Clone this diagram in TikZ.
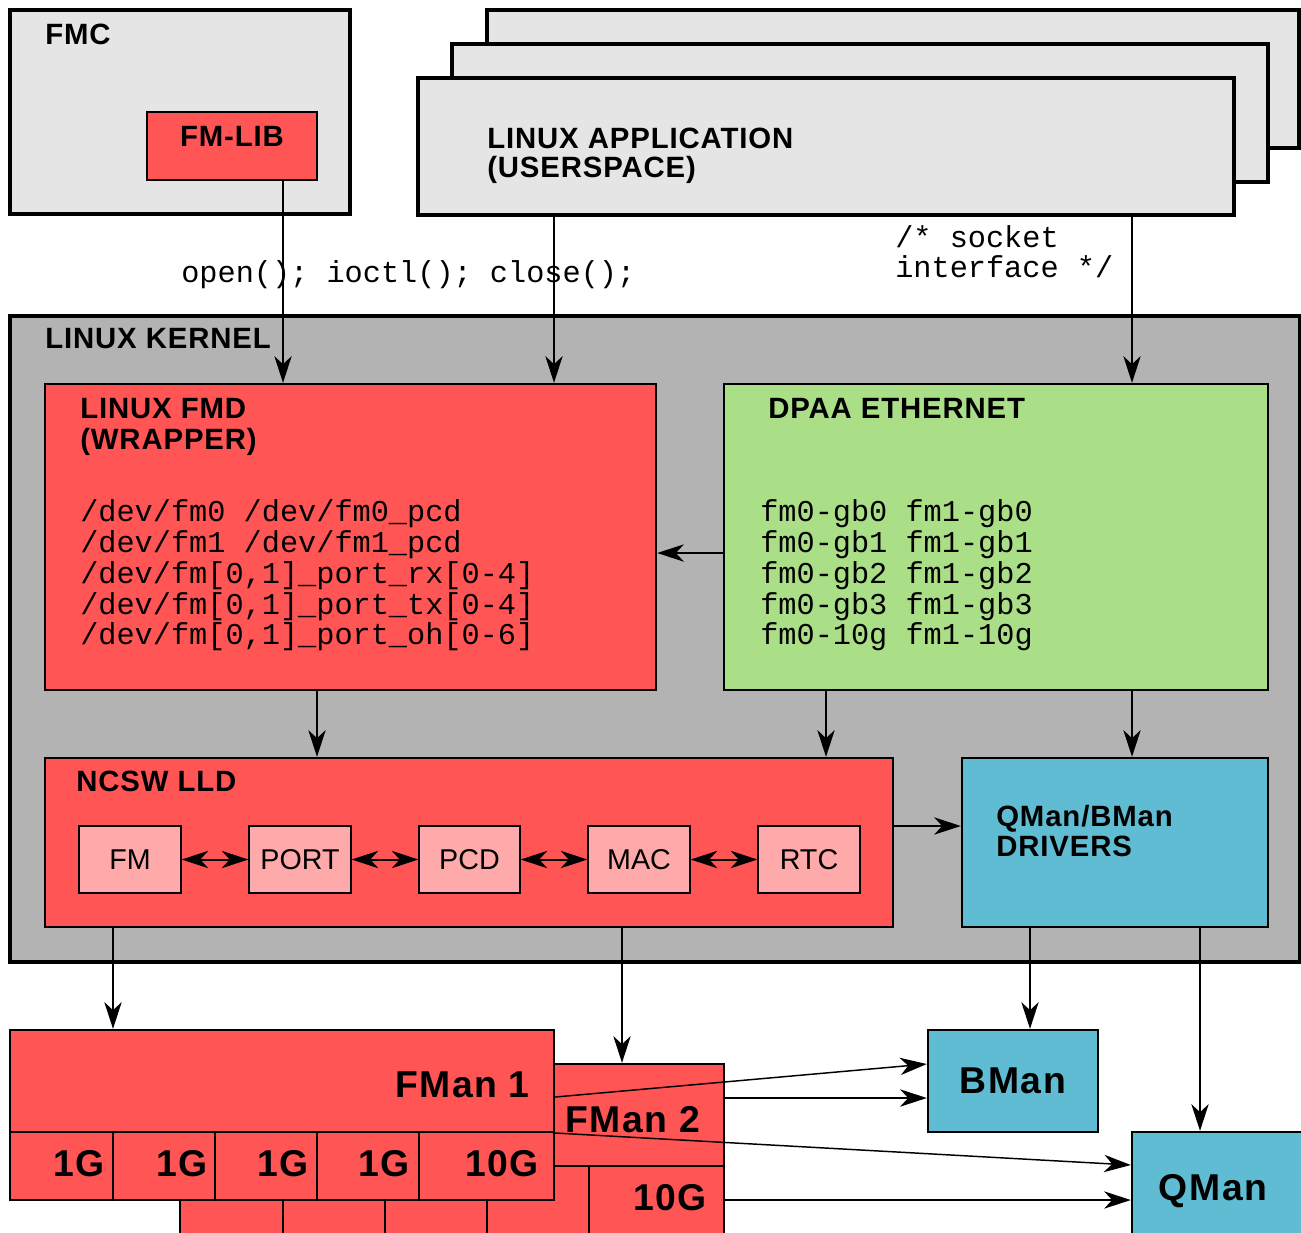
\documentclass[tikz,border=0pt]{standalone}
\usepackage{fontspec}
\setmainfont{Liberation Sans}
\setmonofont{Liberation Mono}
\newfontfamily\lblfont{Liberation Sans}[LetterSpace=3]
\newfontfamily\bigfont{Liberation Sans}[LetterSpace=4]
\usetikzlibrary{arrows.meta,fit}
\definecolor{lgray}{HTML}{E5E5E5}
\definecolor{kgray}{HTML}{B3B3B3}
\definecolor{fred}{HTML}{FF5555}
\definecolor{fpink}{HTML}{FFAAAA}
\definecolor{fgreen}{HTML}{AADE87}
\definecolor{fblue}{HTML}{5FBCD3}
\begin{document}
\begin{tikzpicture}[x=0.75pt,y=-0.75pt,
  box/.style={draw, line width=1.8pt, inner sep=0pt},
  obox/.style={draw, line width=2.4pt, inner sep=0pt},
  tbox/.style={draw, line width=0.9pt, inner sep=0pt},
  lbl/.style={font=\lblfont\bfseries\fontsize{22}{25}\selectfont, inner sep=0pt, anchor=base west},
  rlbl/.style={font=\fontsize{21.5}{25}\selectfont, inner sep=0pt},
  mono/.style={font=\ttfamily\fontsize{22.7}{23}\selectfont, inner sep=0pt, anchor=base west},
  big/.style={font=\bigfont\bfseries\fontsize{28}{30}\selectfont, inner sep=0pt},
  ctip/.tip={Stealth[length=20pt,width=13pt,inset=6pt]},
  conn/.style={line width=1.1pt, -ctip},
  dbl/.style={line width=1.5pt, ctip-ctip},
]
\useasboundingbox (0,0) rectangle (1301,1232);
\begin{scope}
\clip (0,0) rectangle (1301,1232);
% helper x / y coordinates
\coordinate (x113) at (113,0);
\coordinate (x283) at (283,0);
\coordinate (x317) at (317,0);
\coordinate (x554) at (554,0);
\coordinate (x622) at (622,0);
\coordinate (x826) at (826,0);
\coordinate (x1030) at (1030,0);
\coordinate (x1132) at (1132,0);
\coordinate (x1200) at (1200,0);
\coordinate (y553) at (0,553);
\coordinate (y826) at (0,826);
\coordinate (y1064) at (0,1064);
\coordinate (y1097) at (0,1097);
\coordinate (y1098) at (0,1098);
\coordinate (y1133) at (0,1133);
\coordinate (y1165) at (0,1165);
\coordinate (y1200) at (0,1200);

% FMC
\node[obox, fill=lgray, fit={(10,10) (350,214)}] (fmc) {};
\node[lbl] (fmct) at (45,44) {FMC};
\node[tbox, fill=fred, fit={(147,112) (317,180)}] (fmlib) {};
\node[lbl, anchor=base] (fmlibt) at (232,146) {FM-LIB};

% application stack
\node[obox, fill=lgray, fit={(487,10) (1299,148)}] (app3) {};
\node[obox, fill=lgray, fit={(452,44) (1268,182)}] (app2) {};
\node[obox, fill=lgray, fit={(418,78) (1234,215)}] (app) {};
\node[lbl] (appt1) at (487,148) {LINUX APPLICATION};
\node[lbl] (appt2) at (487,177) {(USERSPACE)};

% call labels
\node[mono] (sys) at (181,282) {open(); ioctl(); close();};
\node[mono] (sock1) at (895,247) {/* socket};
\node[mono] (sock2) at (895,277) {interface */};

% kernel
\node[obox, fill=kgray, fit={(10,316) (1300,962)}] (kern) {};
\node[lbl] (kernt) at (45,348) {LINUX KERNEL};

% FMD
\node[box, fill=fred, fit={(45,384) (656,690)}] (fmd) {};
\node[lbl] (fmdt1) at (80,418) {LINUX FMD};
\node[lbl] (fmdt2) at (80,449) {(WRAPPER)};
\node[mono] (dv1) at (80,521) {/dev/fm0 /dev/fm0\_pcd};
\node[mono] (dv2) at (80,552) {/dev/fm1 /dev/fm1\_pcd};
\node[mono] (dv3) at (80,583) {/dev/fm[0,1]\_port\_rx[0-4]};
\node[mono] (dv4) at (80,614) {/dev/fm[0,1]\_port\_tx[0-4]};
\node[mono] (dv5) at (80,644) {/dev/fm[0,1]\_port\_oh[0-6]};

% DPAA
\node[box, fill=fgreen, fit={(724,384) (1268,690)}] (dpaa) {};
\node[lbl] (dpaat) at (768,418) {DPAA ETHERNET};
\node[mono] (et1) at (760,521) {fm0-gb0 fm1-gb0};
\node[mono] (et2) at (760,552) {fm0-gb1 fm1-gb1};
\node[mono] (et3) at (760,583) {fm0-gb2 fm1-gb2};
\node[mono] (et4) at (760,614) {fm0-gb3 fm1-gb3};
\node[mono] (et5) at (760,644) {fm0-10g fm1-10g};

% NCSW LLD
\node[box, fill=fred, fit={(45,758) (893,927)}] (ncsw) {};
\node[lbl] (ncswt) at (76,791) {NCSW LLD};
\node[tbox, fill=fpink, fit={(79,826) (181,893)}] (fm) {};
\node[rlbl] (fmt) at (fm) {FM};
\node[tbox, fill=fpink, fit={(249,826) (351,893)}] (port) {};
\node[rlbl] (portt) at (port) {PORT};
\node[tbox, fill=fpink, fit={(419,826) (520,893)}] (pcd) {};
\node[rlbl] (pcdt) at (pcd) {PCD};
\node[tbox, fill=fpink, fit={(588,826) (690,893)}] (mac) {};
\node[rlbl] (mact) at (mac) {MAC};
\node[tbox, fill=fpink, fit={(758,826) (860,893)}] (rtc) {};
\node[rlbl] (rtct) at (rtc) {RTC};

% drivers
\node[box, fill=fblue, fit={(962,758) (1268,927)}] (drv) {};
\node[lbl] (drvt1) at (996,826) {QMan/BMan};
\node[lbl] (drvt2) at (996,856) {DRIVERS};

% FMan 2
\node[box, fill=fred, fit={(180,1064) (724,1166)}] (fman2) {};
\node[box, fill=fred, fit={(180,1166) (283,1250)}] (f2a) {};
\node[box, fill=fred, fit={(283,1166) (385,1250)}] (f2b) {};
\node[box, fill=fred, fit={(385,1166) (487,1250)}] (f2c) {};
\node[box, fill=fred, fit={(487,1166) (589,1250)}] (f2d) {};
\node[box, fill=fred, fit={(589,1166) (724,1250)}] (f2e) {};
\node[big, anchor=base west] (fman2t) at (565,1132) {FMan 2};
\node[big, anchor=base east] (f2et) at (707,1210) {10G};

% FMan 1
\node[box, fill=fred, fit={(10,1030) (554,1132)}] (fman1) {};
\node[box, fill=fred, fit={(10,1132) (113,1200)}] (f1a) {};
\node[box, fill=fred, fit={(113,1132) (215,1200)}] (f1b) {};
\node[box, fill=fred, fit={(215,1132) (317,1200)}] (f1c) {};
\node[box, fill=fred, fit={(317,1132) (419,1200)}] (f1d) {};
\node[box, fill=fred, fit={(419,1132) (554,1200)}] (f1e) {};
\node[big, anchor=base east] (fman1t) at (530,1097) {FMan 1};
\node[big, anchor=base east] (f1at) at (105,1176) {1G};
\node[big, anchor=base east] (f1bt) at (208,1176) {1G};
\node[big, anchor=base east] (f1ct) at (309,1176) {1G};
\node[big, anchor=base east] (f1dt) at (410,1176) {1G};
\node[big, anchor=base east] (f1et) at (539,1176) {10G};

% BMan / QMan
\node[box, fill=fblue, fit={(928,1030) (1098,1132)}] (bman) {};
\node[big] (bmant) at (bman) {BMan};
\node[box, fill=fblue, fit={(1132,1132) (1310,1250)}] (qman) {};
\node[big, anchor=base] (qmant) at (1213,1200) {QMan};

% connectors
\draw[conn] (fmlib.south -| x283) -- (fmd.north -| x283);
\draw[conn] (app.south -| x554) -- (fmd.north -| x554);
\draw[conn] (app.south -| x1132) -- (dpaa.north -| x1132);
\draw[conn] (dpaa.west |- y553) -- (fmd.east |- y553);
\draw[conn] (fmd.south -| x317) -- (ncsw.north -| x317);
\draw[conn] (dpaa.south -| x826) -- (ncsw.north -| x826);
\draw[conn] (dpaa.south -| x1132) -- (drv.north -| x1132);
\draw[conn] (ncsw.east |- y826) -- (drv.west |- y826);
\draw[dbl] (fm.east) -- (port.west);
\draw[dbl] (port.east) -- (pcd.west);
\draw[dbl] (pcd.east) -- (mac.west);
\draw[dbl] (mac.east) -- (rtc.west);
\draw[conn] (ncsw.south -| x113) -- (fman1.north -| x113);
\draw[conn] (ncsw.south -| x622) -- (fman2.north -| x622);
\draw[conn] (drv.south -| x1030) -- (bman.north -| x1030);
\draw[conn] (drv.south -| x1200) -- (qman.north -| x1200);
\draw[conn] (fman1.east |- y1097) -- (bman.west |- y1064);
\draw[conn] (fman2.east |- y1098) -- (bman.west |- y1098);
\draw[conn] (fman1.east |- y1133) -- (qman.west |- y1165);
\draw[conn] (f2e.east |- y1200) -- (qman.west |- y1200);
\end{scope}
\end{tikzpicture}
\end{document}
